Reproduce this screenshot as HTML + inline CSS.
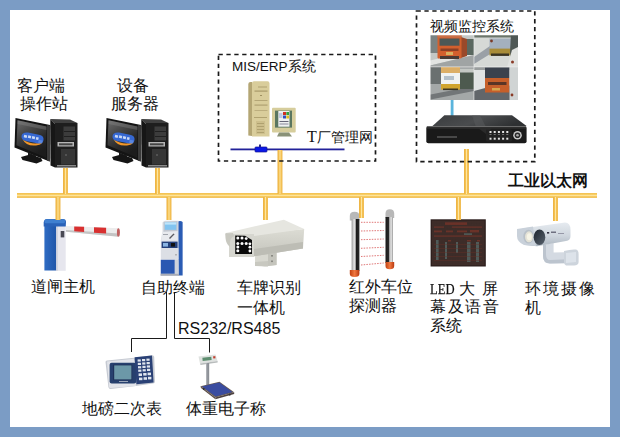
<!DOCTYPE html>
<html><head><meta charset="utf-8">
<style>
html,body{margin:0;padding:0;}
body{width:620px;height:437px;background:#7b9cc5;position:relative;overflow:hidden;font-family:"Liberation Sans",sans-serif;color:#111;}
#inner{position:absolute;left:10px;top:10px;width:600px;height:417px;background:#fff;}
svg{position:absolute;left:0;top:0;}
.t{position:absolute;font-size:16px;line-height:18px;white-space:nowrap;}
</style></head><body>
<div id="inner"></div>
<svg width="620" height="437" viewBox="0 0 620 437">
<defs>
  <linearGradient id="busH" x1="0" y1="0" x2="0" y2="1">
    <stop offset="0" stop-color="#f0bf55"/><stop offset="0.25" stop-color="#f7c958"/>
    <stop offset="0.5" stop-color="#fde39a"/><stop offset="0.75" stop-color="#f5c352"/><stop offset="1" stop-color="#f0c46a"/>
  </linearGradient>
  <linearGradient id="busV" x1="0" y1="0" x2="1" y2="0">
    <stop offset="0" stop-color="#eab040"/><stop offset="0.3" stop-color="#f5c050"/>
    <stop offset="0.5" stop-color="#fde6a0"/><stop offset="0.7" stop-color="#f5c050"/><stop offset="1" stop-color="#eebc58"/>
  </linearGradient>
</defs>

<g id="pc">
  <polygon points="15.5,118 50,125 49.5,161.5 14.5,147.5" fill="#141414"/>
  <polygon points="47,125 50.5,125.5 50,161.5 47,160.5" fill="#3a3a3a"/>
  <linearGradient id="scr" x1="0" y1="0" x2="0.5" y2="1">
    <stop offset="0" stop-color="#6e6e6e"/><stop offset="0.35" stop-color="#4a4a4a"/><stop offset="0.7" stop-color="#2a2a2a"/><stop offset="1" stop-color="#1c1c1c"/>
  </linearGradient>
  <polygon points="17.5,120.3 46.5,126.6 46,157.5 16.5,145.2" fill="url(#scr)"/>
  <polygon points="17.5,120.3 46.5,126.6 46.5,130 17.5,124" fill="#8a8a8a" opacity="0.35"/>
  <path d="M22.5,139 Q26,146.5 36,145.5 Q41,145 42.5,142 Q36,144.5 29,142.5 Q25,141.5 22.5,139 Z" fill="#f0962a"/>
  <path d="M21.5,136 Q22,132 28,132.5 L40,135 Q44,136 43.5,140 Q43,144 38,143.5 L26,141 Q21,140 21.5,136 Z" fill="#3668d2"/>
  <g fill="#dbe6fa" opacity="0.9">
    <rect x="24" y="135" width="3" height="2.5" transform="rotate(12 25 136)"/>
    <rect x="28" y="135.5" width="3" height="2.5" transform="rotate(12 29 137)"/>
    <rect x="32" y="136.3" width="3" height="2.5" transform="rotate(12 33 137.5)"/>
    <rect x="36" y="137.2" width="2.5" height="2.5" transform="rotate(12 37 138.5)"/>
  </g>
  <rect x="38.5" y="140" width="4" height="3" fill="#5a86e0" transform="rotate(12 40 141)"/>
  <polygon points="28,152.5 36,155.5 36,158 28,156" fill="#1a1a1a"/>
  <polygon points="21,157 30,154.5 41,158 42.5,161 36.5,163.5 22.5,160" fill="#151515"/>
  <polygon points="50.3,119 70,119.5 77.5,123 55,124" fill="#404040"/>
  <polygon points="50.3,119 55,124 55,167.5 50.5,165.5" fill="#161616"/>
  <rect x="55" y="123" width="22.5" height="44.5" fill="#1e1e1e"/>
  <rect x="63.5" y="126.5" width="11.5" height="14" fill="#3c3c3c"/>
  <rect x="64" y="131" width="11" height="0.8" fill="#1a1a1a"/>
  <rect x="64" y="136" width="11" height="0.8" fill="#1a1a1a"/>
  <rect x="57.5" y="142" width="16.5" height="4.5" fill="#b5b5b5"/>
  <rect x="59" y="143.3" width="13.5" height="2" fill="#444"/>
  <rect x="61" y="149" width="14" height="15.5" fill="#363636"/>
  <circle cx="66" cy="155" r="0.8" fill="#777"/>
  <rect x="57" y="165" width="19" height="1.5" fill="#8a8a8a"/>
</g>
<use href="#pc" x="91" y="0"/>

<!-- MIS server -->
<g id="mis">
  <path d="M248.3,84 Q248.3,82 250.5,82 L252,82 L252,136 L248.3,135.5 Z" fill="#b4a674"/>
  <path d="M252,83 Q252,81.3 254,81.3 L267.5,81.3 Q269.5,81.3 269.5,83.5 L269.5,136.5 L252,136.5 Z" fill="#d9cd9b"/>
  <rect x="258" y="86.5" width="9" height="1" fill="#b0a272"/>
  <rect x="254.5" y="90.5" width="13" height="1.2" fill="#a89a6a"/>
  <rect x="260" y="95" width="2" height="1" fill="#9e9060"/>
  <rect x="254.5" y="100" width="13" height="1" fill="#b4a676"/>
  <rect x="254.5" y="104.5" width="13" height="1.2" fill="#b0a272"/>
  <rect x="254.5" y="110" width="13" height="1" fill="#bcae7e"/>
  <rect x="254" y="117" width="13" height="1" fill="#b0a270"/>
  <rect x="256" y="121" width="9" height="13" fill="#cdbf8c"/>
  <rect x="257" y="123" width="7" height="0.8" fill="#a89a68"/>
  <rect x="257" y="126" width="7" height="0.8" fill="#a89a68"/>
  <rect x="257" y="129" width="7" height="0.8" fill="#a89a68"/>
  <rect x="257" y="132" width="7" height="0.8" fill="#a89a68"/>
  <!-- monitor -->
  <rect x="272" y="107.7" width="23.7" height="24.8" rx="1" fill="#d6cd9c"/>
  <rect x="275" y="110.6" width="17" height="17" fill="#5a7660"/>
  <rect x="278.3" y="111" width="11.2" height="15.7" fill="#eef0f0"/>
  <rect x="283" y="112" width="3" height="3" fill="#d03020"/>
  <rect x="286.3" y="112" width="2.7" height="3" fill="#30a040"/>
  <rect x="283" y="115.5" width="3" height="3" fill="#3050c0"/>
  <rect x="286.3" y="115.5" width="2.7" height="3" fill="#e0c020"/>
  <rect x="279" y="113" width="3.5" height="5" fill="#c0c8e0"/>
  <rect x="279.5" y="121" width="9" height="1" fill="#667"/>
  <rect x="279.5" y="123.5" width="9" height="1" fill="#889"/>
  <polygon points="279,132.5 289,132.5 292,136.5 277,136.5" fill="#8a9278"/>
</g>
<!-- blue LAN line -->
<rect x="230.5" y="148.5" width="114" height="1.8" fill="#22229a"/>
<rect x="255" y="147" width="12" height="5" rx="0.8" fill="#0a18e8" stroke="#161690" stroke-width="0.7"/>
<rect x="259" y="144.5" width="2" height="2.5" fill="#28288a"/>

<!-- video grid -->
<filter id="soft" x="-5%" y="-5%" width="110%" height="110%"><feGaussianBlur stdDeviation="0.5"/></filter>
<clipPath id="gclip"><rect x="430.5" y="35.2" width="87.5" height="64.8"/></clipPath>
<g id="video" clip-path="url(#gclip)"><g filter="url(#soft)">
  <rect x="428" y="33" width="92" height="70" fill="#a8acaa"/>
  <!-- TL -->
  <rect x="428" y="33" width="46" height="34" fill="#c4c8c6"/>
  <rect x="428" y="33" width="10" height="20" fill="#7a8282"/>
  <polygon points="428,61 474,50 474,55 428,66" fill="#e2e4e2"/>
  <polygon points="428,66 474,55 474,67 428,67" fill="#a0a4a4"/>
  <rect x="466" y="39" width="8" height="16" fill="#5a6860"/>
  <polygon points="461,37 467,39 467,56 461,58" fill="#9a4a2a"/>
  <rect x="437.5" y="34" width="24" height="24.5" rx="1" fill="#d2602e"/>
  <rect x="437.5" y="33" width="24" height="4.5" fill="#c8704a"/>
  <rect x="439.5" y="38.5" width="20" height="7.2" fill="#4e5856"/>
  <rect x="440.5" y="48.5" width="18" height="2.5" fill="#8a4028"/>
  <rect x="446" y="52" width="7" height="3" fill="#d8b060"/>
  <rect x="440" y="56" width="19" height="3" fill="#4a3a34"/>
  <!-- TR -->
  <rect x="474" y="33" width="46" height="34" fill="#d6d9d6"/>
  <rect x="474" y="33" width="38" height="4.5" fill="#6a746a"/>
  <polygon points="474,57 490,46 495,51 474,64" fill="#9aa0a6"/>
  <rect x="489.5" y="38.5" width="21.5" height="10.5" fill="#a4b0be"/>
  <rect x="489.5" y="48.6" width="21.5" height="6.8" fill="#a88c38"/>
  <rect x="491" y="53.5" width="18" height="2.4" fill="#3a3424"/>
  <polygon points="511,33 520,33 520,100 515,100 510,52" fill="#505854"/>
  <polygon points="512,50 520,46 520,67 507,67" fill="#e0e2e0"/>
  <circle cx="491.5" cy="41" r="1.4" fill="#7a3a28"/>
  <circle cx="512.5" cy="62" r="1.5" fill="#8a3a28"/>
  <!-- BL -->
  <rect x="428" y="67" width="46" height="34" fill="#a4a8a8"/>
  <rect x="428" y="67" width="13" height="17" fill="#6a7070"/>
  <polygon points="428,95 474,86 474,91 428,100" fill="#727678"/>
  <rect x="459.8" y="71" width="14.2" height="18" fill="#4e5a50"/>
  <rect x="459.8" y="69" width="14.2" height="3.5" fill="#c4c8c4"/>
  <rect x="441" y="67" width="19" height="6" fill="#dcae66"/>
  <rect x="441" y="73" width="19" height="11" fill="#f0f2f2"/>
  <rect x="444" y="76" width="10" height="4" fill="#b4c0ca"/>
  <rect x="441" y="84" width="19" height="5.6" fill="#d0a42e"/>
  <rect x="443" y="88.5" width="15" height="1.6" fill="#3a3424"/>
  <!-- BR -->
  <rect x="474" y="67" width="46" height="34" fill="#e0e3e3"/>
  <polygon points="474,100 474,91 500,84 512,86 518,100" fill="#62666a"/>
  <rect x="474" y="67" width="44" height="3" fill="#9a9e9e"/>
  <rect x="485" y="67.5" width="24.5" height="10.5" fill="#3a424e"/>
  <rect x="485" y="78" width="24.5" height="14.5" fill="#c65e2a"/>
  <rect x="488" y="82" width="18.5" height="3" fill="#5a3428"/>
  <rect x="492" y="88" width="8" height="2.5" fill="#d8a850"/>
  <rect x="509.5" y="67" width="8.5" height="33" fill="#d0d4d4"/>
  <circle cx="512" cy="95" r="1.4" fill="#8a3a28"/>
</g>
  <rect x="473.5" y="35" width="0.9" height="66" fill="#f0f0f0" opacity="0.7"/>
  <rect x="430" y="66.4" width="88" height="0.9" fill="#f0f0f0" opacity="0.7"/>
</g>
<rect x="450.7" y="100" width="2.8" height="16" fill="#5ab4dc"/>
<!-- DVR -->
<g id="dvr">
  <linearGradient id="dvrtop" x1="0" y1="0" x2="1" y2="0.3">
    <stop offset="0" stop-color="#3a3c3e"/><stop offset="0.55" stop-color="#4a4c4e"/><stop offset="1" stop-color="#2e3032"/>
  </linearGradient>
  <polygon points="444.4,115.3 512,115.3 526.6,126 430.8,127.5" fill="url(#dvrtop)"/>
  <polygon points="472,115.3 480,115.3 486,127 476,127.2" fill="#5a5c5e" opacity="0.5"/>
  <rect x="426.3" y="126" width="100.3" height="17.2" rx="2" fill="#1a1a1a"/>
  <rect x="427" y="126" width="99" height="1.2" fill="#6a6a6a"/>
  <rect x="427" y="127.2" width="99" height="1.5" fill="#2e2e2e"/>
  <polygon points="478,128 486,134 492,128" fill="#2a2a2a"/>
  <rect x="437" y="136.5" width="20" height="1" fill="#777"/>
  <rect x="486" y="129.5" width="26" height="12" rx="1" fill="#222"/>
  <g fill="#e4e4e4">
    <rect x="489.5" y="131" width="2" height="2"/><rect x="493.7" y="131" width="2" height="2"/><rect x="497.9" y="131" width="2" height="2"/><rect x="502.1" y="131" width="2" height="2"/><rect x="506.3" y="131" width="2" height="2"/>
    <rect x="489.5" y="137.7" width="2" height="2"/><rect x="493.7" y="137.7" width="2" height="2"/><rect x="497.9" y="137.7" width="2" height="2"/><rect x="502.1" y="137.7" width="2" height="2"/><rect x="506.3" y="137.7" width="2" height="2"/>
  </g>
  <g fill="#888">
    <rect x="489.5" y="134" width="2" height="0.8"/><rect x="493.7" y="134" width="2" height="0.8"/><rect x="497.9" y="134" width="2" height="0.8"/><rect x="502.1" y="134" width="2" height="0.8"/><rect x="506.3" y="134" width="2" height="0.8"/>
  </g>
  <circle cx="517.5" cy="135.2" r="4.3" fill="#c8c8c8"/>
  <circle cx="517.5" cy="135.2" r="2.8" fill="#2a2a2a"/>
  <circle cx="517.5" cy="135.2" r="1.3" fill="#aaa"/>
</g>
<!-- barrier gate -->
<g id="gate">
  <linearGradient id="gblue" x1="0" y1="0" x2="1" y2="0">
    <stop offset="0" stop-color="#2f6cc4"/><stop offset="1" stop-color="#1f55a8"/>
  </linearGradient>
  <rect x="44.4" y="225" width="12" height="45.5" fill="url(#gblue)"/>
  <rect x="56.4" y="225" width="9.3" height="45.8" fill="#e6e6ee"/>
  <rect x="56.4" y="225" width="1.2" height="45.8" fill="#c8ccd8"/>
  <rect x="60.7" y="231" width="3.6" height="6.4" fill="#4a4a55"/>
  <path d="M43.7,222.5 Q44,219 47,219 L63,219 Q66,219 66,222 L65.7,226.5 L43.7,226.5 Z" fill="#2a62b8"/>
  <rect x="44.5" y="219.3" width="20.5" height="4" rx="1.5" fill="#3f7fd0"/>
  <polygon points="66,226 118.9,228.2 118.9,236.7 66,231.7" fill="#ececec"/>
  <polygon points="66,230 118.9,233.6 118.9,236.7 66,231.7" fill="#c4c4c4"/>
  <polygon points="74.2,226.4 84.1,226.8 84.1,232 74.2,231.2" fill="#d83030"/>
  <polygon points="94,227.3 106.1,227.8 106.1,233.6 94,232.8" fill="#d83030"/>
  <ellipse cx="118.4" cy="232.4" rx="1.5" ry="4.2" fill="#c06060"/>
</g>
<!-- kiosk -->
<g id="kiosk">
  <path d="M177.5,221.5 Q181,220.5 182.6,222 L182.6,275.5 L178.4,275.5 Z" fill="#2a5cb4"/>
  <polygon points="162.4,222.5 165,220.8 178.5,220.8 178.5,275.5 160.8,275.5 160.8,240 162.4,231.5" fill="#dfe2e8"/>
  <polygon points="163.5,221.8 177.5,221 177.5,231 163.5,231.8" fill="#c2c7d0"/>
  <rect x="164.8" y="222.4" width="11.5" height="7.4" fill="#82c4f0"/>
  <rect x="164.8" y="222.4" width="11.5" height="2.2" fill="#bfe4fa"/>
  <polygon points="162.4,232 177.5,231.5 177.5,240 161.5,240.5" fill="#e8eaee"/>
  <polygon points="169,238 173.5,233.5 174.6,234.3 170,239" fill="#5a5a60"/>
  <rect x="163" y="234" width="5" height="1" fill="#a0a4ac"/>
  <rect x="161.6" y="241.6" width="16" height="6.4" fill="#24407a"/>
  <rect x="163" y="243" width="5" height="3.6" fill="#8ab4e2"/>
  <rect x="171" y="243" width="4" height="3.6" fill="#111"/>
  <rect x="161" y="248" width="17.4" height="11.4" fill="#dcdfe5"/>
  <rect x="175.5" y="254" width="1" height="1.5" fill="#888"/>
  <rect x="160.8" y="259.8" width="14" height="14" fill="#2a58b2"/>
  <rect x="174.8" y="259.8" width="3.6" height="14" fill="#cfd3db"/>
  <rect x="160.5" y="273.8" width="18.5" height="2" fill="#a8acb6"/>
</g>
<!-- camera housing -->
<g id="housing">
  <linearGradient id="hside" x1="0" y1="0" x2="0" y2="1">
    <stop offset="0" stop-color="#dcdcd4"/><stop offset="1" stop-color="#c4c4bc"/>
  </linearGradient>
  <polygon points="255,250 268,248 276.6,249.5 276.6,265 265,266.5 255,265" fill="#d8d8d0"/>
  <polygon points="268,250 276.6,249.5 276.6,265 268,266" fill="#c4c4bc"/>
  <rect x="271" y="255" width="2" height="1.6" fill="#8a8a84"/>
  <rect x="271" y="260.5" width="2" height="1.6" fill="#8a8a84"/>
  <polygon points="255,262 268,261 268,266.5 255,266" fill="#c8c8c0"/>
  <polygon points="254,234.3 304.2,229 303,248.5 254,256.3" fill="url(#hside)"/>
  <polygon points="254,249 303,242 303,248.5 254,256.3" fill="#bdbdb5"/>
  <polygon points="225.8,232.9 283.9,219.8 304.2,229 254,236" fill="#e6e6e0"/>
  <polygon points="225.8,232.9 254,236 254,238 226,235" fill="#cfcfc8"/>
  <rect x="229" y="234" width="25" height="23" fill="#d6d6cf"/>
  <path d="M225.2,233.4 L233,233 L234,236 Q229,238 230,247 Q226,244 225.5,238 Z" fill="#c8c8c0"/>
  <path d="M235.2,235.5 L245,235.8 L252,240 L252,253.9 L235.2,253.9 Z" fill="#0a0a0a"/>
  <g fill="#fcfcfc">
    <circle cx="237.8" cy="238.1" r="1.5"/><circle cx="242" cy="238.1" r="1.5"/><circle cx="246.2" cy="238.6" r="1.4"/>
    <circle cx="237.8" cy="243.4" r="1.5"/><circle cx="242" cy="243.4" r="1.5"/><circle cx="246.2" cy="243.4" r="1.5"/><circle cx="249.9" cy="243.8" r="1.4"/>
    <circle cx="237.8" cy="247" r="1.5"/><circle cx="249.9" cy="247.2" r="1.4"/>
    <circle cx="237.8" cy="250.7" r="1.5"/><circle cx="249.9" cy="251" r="1.4"/>
  </g>
</g>
<!-- IR detector -->
<g id="ir">
  <linearGradient id="pole" x1="0" y1="0" x2="1" y2="0">
    <stop offset="0" stop-color="#9a9a9a"/><stop offset="0.35" stop-color="#e8e8e8"/><stop offset="0.55" stop-color="#8a8a8a"/><stop offset="0.6" stop-color="#1a1a1a"/><stop offset="1" stop-color="#2a2a2a"/>
  </linearGradient>
  <linearGradient id="pole2" x1="0" y1="0" x2="1" y2="0">
    <stop offset="0" stop-color="#1a1a1a"/><stop offset="0.45" stop-color="#2a2a2a"/><stop offset="0.5" stop-color="#9a9a9a"/><stop offset="0.75" stop-color="#e8e8e8"/><stop offset="1" stop-color="#9a9a9a"/>
  </linearGradient>
  <linearGradient id="cap" x1="0" y1="0" x2="1" y2="0">
    <stop offset="0" stop-color="#c04010"/><stop offset="0.5" stop-color="#f07840"/><stop offset="1" stop-color="#b83810"/>
  </linearGradient>
  <path d="M349.8,220.5 L349.8,216 Q349.8,211.8 354.6,211.8 Q359.4,211.8 359.4,216 L359.4,220.5 Z" fill="#b8b8b8"/>
  <rect x="351.6" y="219" width="7.8" height="52" fill="url(#pole)"/>
  <path d="M349.8,270 L359.4,270 L359.4,274 Q359.4,277 354.6,277 Q349.8,277 349.8,274 Z" fill="url(#cap)"/>
  <path d="M385.5,218 L385.5,213.5 Q385.5,209.2 389.8,209.2 Q394.2,209.2 394.2,213.5 L394.2,218 Z" fill="#b8b8b8"/>
  <rect x="385.5" y="217" width="7.5" height="46" fill="url(#pole2)"/>
  <path d="M385.5,262 L394.2,262 L394.2,266 Q394.2,269.2 389.8,269.2 Q385.5,269.2 385.5,266 Z" fill="url(#cap)"/>
  <g stroke="#e07878" stroke-width="1" stroke-dasharray="1.5,1.2" fill="none">
    <line x1="361" y1="222.3" x2="383.7" y2="222.3"/>
    <line x1="361" y1="231" x2="383.7" y2="230.5"/>
    <line x1="361" y1="239.7" x2="383.7" y2="239"/>
    <line x1="361" y1="248.3" x2="383.7" y2="247.3"/>
    <line x1="361" y1="256.5" x2="383.7" y2="255.3"/>
    <line x1="361" y1="265" x2="383.7" y2="263"/>
  </g>
</g>
<!-- LED screen -->
<g id="led">
  <pattern id="dots" width="1.6" height="1.6" patternUnits="userSpaceOnUse">
    <rect width="1.6" height="1.6" fill="#3a2a26"/><rect x="0.3" y="0.3" width="0.8" height="0.8" fill="#45322c"/>
  </pattern>
  <rect x="430.6" y="219.3" width="55.2" height="47.2" fill="#2a1c1a"/>
  <rect x="431.8" y="220.5" width="52.8" height="44.8" fill="url(#dots)"/>
  <g fill="#7a3428" opacity="0.75">
    <rect x="445" y="222.3" width="22" height="2.6"/>
    <rect x="434" y="226.5" width="10" height="1.2"/><rect x="452" y="226.5" width="30" height="1.2"/>
    <rect x="434" y="230.5" width="8" height="1.8"/><rect x="446" y="230.5" width="7" height="1.8"/><rect x="457" y="230.5" width="10" height="1.8"/><rect x="470" y="230" width="9" height="2.4"/>
    <rect x="434" y="235.5" width="48" height="1.2"/>
    <rect x="448" y="240" width="3" height="1.5"/><rect x="467" y="240" width="4" height="1.5"/><rect x="477" y="240" width="3" height="1.5"/>
  </g>
  <g fill="#58706e" opacity="0.7">
    <rect x="464" y="233.3" width="8" height="1.6"/>
    <rect x="436" y="240" width="2.6" height="20"/>
    <rect x="445" y="242" width="2" height="17"/>
    <rect x="456" y="242" width="2" height="11"/>
    <rect x="467" y="242" width="3.5" height="20"/>
    <rect x="476" y="242" width="3" height="20"/>
  </g>
  <g fill="#6a3026" opacity="0.5">
    <rect x="434" y="244" width="48" height="0.8"/><rect x="434" y="248" width="48" height="0.8"/><rect x="434" y="252" width="48" height="0.8"/><rect x="434" y="256" width="48" height="0.8"/><rect x="434" y="260" width="48" height="0.8"/>
  </g>
</g>
<!-- environment camera -->
<g id="cam">
  <linearGradient id="camb" x1="0" y1="0" x2="0" y2="1">
    <stop offset="0" stop-color="#e6ebf0"/><stop offset="0.55" stop-color="#cfd6de"/><stop offset="1" stop-color="#aeb8c2"/>
  </linearGradient>
  <path d="M543,245 L553.6,243 L553.6,252.5 L574,252 L574,263 L550,263.4 Q543,263.4 543,256 Z" fill="#d4dae2"/>
  <path d="M543,256 Q543,263.4 550,263.4 L574,263 L574,259 L550,260 Q546,260 546,254 L546,244.5 L543,245 Z" fill="#bcc4ce"/>
  <path d="M564,251 Q571,249 576,249.5 Q578.6,250 578.6,254 L578.6,262 Q578.6,265.4 574,265.4 L566,265.4 Q564,265 564,262 Z" fill="#cdd4dc"/>
  <path d="M566,253 L576,252 L576,262 L566,263 Z" fill="#dde3ea"/>
  <path d="M522,228.5 L565,222.5 Q570.5,222.5 570.5,230 L570.5,236 Q570.5,240.5 566,241 L537,246.3 L525,245 Z" fill="url(#camb)"/>
  <path d="M517,229 L533,226.5 L536,246 L524,245 Q517,242 517,236 Z" fill="#c9d1da"/>
  <ellipse cx="528.5" cy="236.6" rx="5.2" ry="6.8" fill="#b8c0c8"/>
  <ellipse cx="529" cy="236.8" rx="4" ry="5.5" fill="#e4e2d6"/>
  <ellipse cx="529.3" cy="236.8" rx="2.5" ry="3.5" fill="#f6f4e6"/>
  <linearGradient id="lens" x1="0" y1="0" x2="1" y2="1">
    <stop offset="0" stop-color="#1e252e"/><stop offset="1" stop-color="#58626e"/>
  </linearGradient>
  <ellipse cx="539.5" cy="237.2" rx="5.8" ry="7.7" fill="url(#lens)"/>
  <rect x="547" y="232" width="2.2" height="1.6" fill="#334"/>
  <rect x="551" y="231.6" width="5" height="1.2" fill="#556"/>
  <rect x="558" y="233" width="6" height="0.8" fill="#889"/>
</g>
<!-- weighing indicator -->
<g id="ind">
  <path d="M105.5,362 Q105.5,360.8 107,360.6 L134,357.8 L152,355.3 Q154,355.2 154.2,357 L155,381.5 Q155,383.5 153,383.6 L136,386 L110.5,389 Q108.6,389 108.4,387 Z" fill="#c6cad2"/>
  <path d="M107,361.5 L134,358.8 L136,386 L110.5,388 Q109.2,388 109,386.5 Z" fill="#e2e4ea"/>
  <rect x="109.6" y="362.8" width="26.6" height="20.6" rx="2" fill="#27406e"/>
  <rect x="113.2" y="364.6" width="19" height="15.6" fill="#1e3058"/>
  <rect x="114.2" y="365.4" width="17.2" height="14" fill="#6c98a8"/>
  <rect x="119" y="381.2" width="9" height="0.8" fill="#b8c0cc"/>
  <polygon points="134.6,357.2 152,355.6 153.6,382.6 136.4,384.2" fill="#2a4176"/>
  <g fill="#dfe5ee">
    <rect x="137.6" y="359.4" width="3.2" height="2.2"/><rect x="142" y="359" width="3.2" height="2.2"/><rect x="146.4" y="358.6" width="3.2" height="2.2"/>
    <rect x="137.8" y="362.8" width="3.2" height="2.2"/><rect x="142.2" y="362.4" width="3.2" height="2.2"/><rect x="146.6" y="362" width="3.2" height="2.2"/>
    <rect x="138" y="366.2" width="3.2" height="2.2"/><rect x="142.4" y="365.8" width="3.2" height="2.2"/><rect x="146.8" y="365.4" width="3.2" height="2.2"/>
    <rect x="138.2" y="369.6" width="3.2" height="2.2"/><rect x="142.6" y="369.2" width="3.2" height="2.2"/><rect x="147" y="368.8" width="3.2" height="2.2"/>
    <rect x="138.6" y="373.4" width="3.4" height="2.6"/><rect x="143.2" y="373" width="3.4" height="2.6"/><rect x="147.6" y="372.6" width="3.4" height="2.6"/>
    <rect x="139" y="377.6" width="3.4" height="2.6"/><rect x="143.6" y="377.2" width="3.4" height="2.6"/><rect x="148" y="376.8" width="3.4" height="2.6"/>
  </g>
</g>
<!-- platform scale -->
<g id="scale">
  <polygon points="198.5,356.5 215.5,354.5 217.6,361 200,363.5" fill="#dfe2e0"/>
  <polygon points="200,363.5 217.6,361 217.6,362.5 200.5,365" fill="#b8bcbc"/>
  <rect x="202.5" y="357.3" width="9" height="3.2" fill="#5e8e70" transform="rotate(-6 207 359)"/>
  <rect x="213.2" y="356.2" width="2.2" height="2.2" fill="#c04030"/>
  <rect x="206.2" y="363" width="3" height="23.5" fill="#8c9096"/>
  <rect x="206.2" y="363" width="1" height="23.5" fill="#b0b4b8"/>
  <polygon points="200.5,386.2 219.5,381.8 234.2,392.2 215.4,397.4" fill="#6a5c54"/>
  <polygon points="202,386.4 219.3,382.6 232.4,392 215.6,396.4" fill="#3a4ca0"/>
  <polygon points="200.5,386.2 215.4,397.4 215.4,399.2 201,388" fill="#5a4c46"/>
  <polygon points="215.4,397.4 234.2,392.2 234.2,394 215.4,399.2" fill="#4e4240"/>
  <rect x="203" y="388" width="1.5" height="2" fill="#333"/>
  <rect x="229" y="393.5" width="1.5" height="2" fill="#333"/>
</g>
<!-- RS wiring -->
<g stroke="#1a1a1a" stroke-width="1" fill="none">
  <polyline points="166.5,292 166.5,338.5 131.5,338.5 131.5,352"/>
  <polyline points="174.5,292 174.5,338.5 209.5,338.5 209.5,352.5"/>
</g>
<!-- bus -->
<rect x="17" y="193" width="580" height="5" fill="url(#busH)"/>
<!-- upper drops -->
<rect x="63" y="168" width="5" height="26" fill="url(#busV)"/>
<rect x="155" y="168" width="5" height="26" fill="url(#busV)"/>
<rect x="277.5" y="150" width="5" height="44" fill="url(#busV)"/>
<rect x="464" y="149" width="5" height="45" fill="url(#busV)"/>
<!-- lower drops -->
<rect x="55.5" y="197" width="5" height="23" fill="url(#busV)"/>
<rect x="166.5" y="197" width="5" height="23" fill="url(#busV)"/>
<rect x="263" y="197" width="5" height="23" fill="url(#busV)"/>
<rect x="359" y="197" width="5" height="21" fill="url(#busV)"/>
<rect x="456" y="197" width="5" height="23" fill="url(#busV)"/>
<rect x="553" y="197" width="5" height="24" fill="url(#busV)"/>

<!-- dashed boxes -->
<rect x="218.5" y="54.5" width="157" height="106.5" fill="none" stroke="#1a1a1a" stroke-width="1.7" stroke-dasharray="4.3,3.6"/>
<rect x="416.5" y="11" width="118.3" height="150.7" fill="none" stroke="#1a1a1a" stroke-width="1.7" stroke-dasharray="4.3,3.6"/>
</svg>

<div class="t" style="left:17px;top:77px;">客户端</div>
<div class="t" style="left:20px;top:95px;">操作站</div>
<div class="t" style="left:117px;top:77px;">设备</div>
<div class="t" style="left:111px;top:95px;">服务器</div>
<div class="t" style="left:232px;top:58px;font-size:13.5px;">MIS/ERP系统</div>
<div class="t" style="left:429.5px;top:16.5px;font-size:14px;">视频监控系统</div>
<div class="t" style="left:507.5px;top:171.5px;font-size:16px;font-weight:bold;">工业以太网</div>
<div class="t" style="left:307px;top:128px;font-family:'Liberation Serif',serif;font-size:16px;">T</div>
<div class="t" style="left:317px;top:128px;font-size:14px;">厂管理网</div>

<div class="t" style="left:31px;top:278px;">道闸主机</div>
<div class="t" style="left:141px;top:279px;">自助终端</div>
<div class="t" style="left:237px;top:279px;">车牌识别</div>
<div class="t" style="left:237px;top:299px;">一体机</div>
<div class="t" style="left:349px;top:278px;">红外车位</div>
<div class="t" style="left:349px;top:297px;">探测器</div>
<div class="t" style="left:430px;top:280px;font-family:'Liberation Serif',serif;font-size:15px;transform-origin:0 0;transform:scaleX(0.84);-webkit-text-stroke:0.25px #111;">LED</div>
<div class="t" style="left:459px;top:280px;">大</div>
<div class="t" style="left:482px;top:280px;">屏</div>
<div class="t" style="left:430px;top:298px;letter-spacing:1.6px;">幕及语音</div>
<div class="t" style="left:430px;top:317px;">系统</div>
<div class="t" style="left:525px;top:280px;letter-spacing:2px;">环境摄像</div>
<div class="t" style="left:525px;top:299px;">机</div>
<div class="t" style="left:178px;top:320px;">RS232/RS485</div>
<div class="t" style="left:82px;top:400px;">地磅二次表</div>
<div class="t" style="left:186px;top:400px;">体重电子称</div>
</body></html>
